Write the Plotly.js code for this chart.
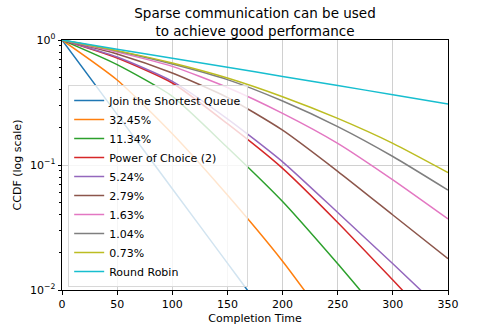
<!DOCTYPE html>
<html>
<head>
<meta charset="utf-8">
<script src="https://cdn.plot.ly/plotly-3.0.1.min.js"></script>
<style>
  html, body { margin: 0; padding: 0; background: #fff; }
  #chart { width: 498px; height: 332px; }
</style>
</head>
<body>
<div id="chart"></div>
<script>
const seriesNames = [
  'Join the Shortest Queue', '32.45%', '11.34%', 'Power of Choice (2)', '5.24%',
  '2.79%', '1.63%', '1.04%', '0.73%', 'Round Robin'
];
const colors = [
  '#1f77b4', '#ff7f0e', '#2ca02c', '#d62728', '#9467bd',
  '#8c564b', '#e377c2', '#7f7f7f', '#bcbd22', '#17becf'
];

// completion time samples for each curve
const xJsq = [0, 50, 100, 150, 168, 175];
const x325 = [0, 50, 100, 150, 200, 225];
const x113 = [0, 50, 100, 150, 200, 250, 275];
const xPoc = [0, 50, 100, 150, 200, 250, 300, 315];
const x052 = [0, 50, 100, 150, 200, 250, 300, 330];
const xFull = [0, 50, 100, 150, 200, 250, 300, 350];

// CCDF values
const yJsq = [1, 0.254, 0.0646, 0.0164, 0.01, 0.0083];
const y325 = [1, 0.479, 0.178, 0.0575, 0.017, 0.0086];
const y113 = [1, 0.635, 0.354, 0.138, 0.051, 0.0162, 0.0089];
const yPoc = [1, 0.718, 0.453, 0.214, 0.094, 0.0347, 0.012, 0.0087];
const y052 = [1, 0.731, 0.467, 0.234, 0.106, 0.0417, 0.0162, 0.0091];
const y028 = [1, 0.773, 0.544, 0.347, 0.19, 0.089, 0.0398, 0.0178];
const y016 = [1, 0.80, 0.615, 0.417, 0.259, 0.149, 0.076, 0.037];
const y010 = [1, 0.817, 0.643, 0.482, 0.325, 0.203, 0.117, 0.063];
const y007 = [1, 0.822, 0.655, 0.497, 0.352, 0.236, 0.149, 0.087];
const yRr = [1, 0.845, 0.715, 0.605, 0.511, 0.432, 0.365, 0.308];

const xs = [xJsq, x325, x113, xPoc, x052, xFull, xFull, xFull, xFull, xFull];
const ys = [yJsq, y325, y113, yPoc, y052, y028, y016, y010, y007, yRr];

// log minor tick positions (2..9 in each decade)
const minorTicks = [];
[0.01, 0.1].forEach((d) => {
  for (let k = 2; k <= 9; k++) minorTicks.push(d * k);
});

const font = 'DejaVu Sans, sans-serif';

const traces = seriesNames.map((name, i) => ({
  x: xs[i],
  y: ys[i],
  name,
  type: 'scatter',
  mode: 'lines',
  line: { color: colors[i], width: 1.5, shape: 'spline', smoothing: 0.6 }
}));

const layout = {
  width: 498,
  height: 332,
  margin: { l: 62, r: 50, t: 40, b: 42 },
  paper_bgcolor: '#fff',
  plot_bgcolor: '#fff',
  font: { family: font, size: 11, color: '#000' },
  title: {
    text: 'Sparse communication can be used<br>to achieve good performance',
    font: { family: font, size: 13.5, color: '#000' },
    x: 0.5, xref: 'paper', xanchor: 'center',
    y: 0.945, yref: 'container', yanchor: 'top'
  },
  xaxis: {
    range: [0, 350],
    tickvals: [0, 50, 100, 150, 200, 250, 300, 350],
    ticks: 'outside', ticklen: 3.5, tickcolor: '#000',
    showline: true, linecolor: '#000', linewidth: 1, mirror: true,
    showgrid: true, gridcolor: '#d0d0d0', gridwidth: 1,
    zeroline: false,
    tickfont: { family: font, size: 11 },
    title: { text: 'Completion Time', font: { family: font, size: 11 }, standoff: 4 }
  },
  yaxis: {
    type: 'log',
    range: [-2, 0],
    tickvals: [0.01, 0.1, 1],
    ticktext: ['10<sup>−2</sup>', '10<sup>−1</sup>', '10<sup>0</sup>'],
    ticks: 'outside', ticklen: 3.5, tickcolor: '#000',
    minor: { tickvals: minorTicks, ticks: 'outside', ticklen: 2, tickcolor: '#000', showgrid: false },
    showline: true, linecolor: '#000', linewidth: 1, mirror: true,
    showgrid: true, gridcolor: '#d0d0d0', gridwidth: 1,
    zeroline: false,
    tickfont: { family: font, size: 11 },
    title: { text: 'CCDF (log scale)', font: { family: font, size: 11 }, standoff: 6 }
  },
  legend: {
    x: 0.016, y: 0.012, xanchor: 'left', yanchor: 'bottom',
    bgcolor: 'rgba(255,255,255,0.8)',
    bordercolor: '#d8d8d8', borderwidth: 1,
    font: { family: font, size: 11 },
    tracegroupgap: 0
  },
  showlegend: true
};

Plotly.newPlot('chart', traces, layout, { displayModeBar: false, staticPlot: true });
</script>
</body>
</html>
